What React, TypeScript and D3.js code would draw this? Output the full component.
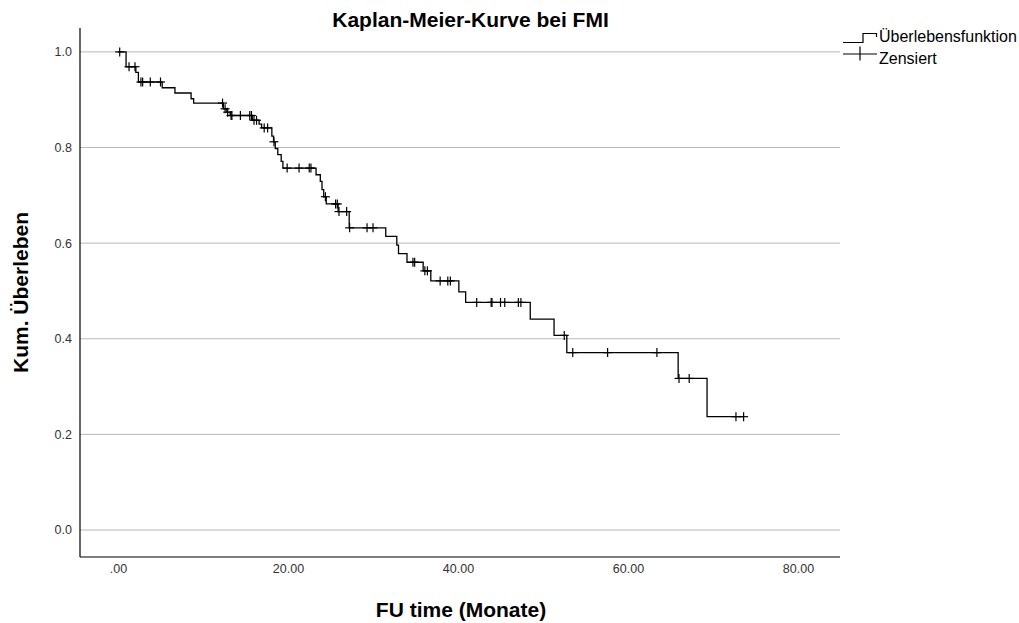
import React, { useEffect, useRef } from 'react';
import * as d3 from 'd3';

// Kaplan-Meier steps: time (months) where the curve drops, and survival after the drop
const stepTimes = [0, 0.95, 2.1, 2.4, 5.2, 6.7, 8.6, 8.9, 12.4, 12.8, 13.2, 15.8, 16.6, 16.9, 18.1, 18.3, 18.5, 18.8, 19.2, 19.4,
    23.3, 23.8, 24.0, 24.2, 24.5, 25.9, 27.2, 31.5, 32.8, 33.0, 34.0, 35.9, 36.8, 40.1, 40.9, 48.5, 51.3, 52.8, 65.9, 69.3];
const stepSurvival = [1.0, 0.969, 0.957, 0.937, 0.925, 0.914, 0.902, 0.893, 0.881, 0.874, 0.867, 0.857, 0.849, 0.841, 0.824, 0.812, 0.798, 0.785, 0.771, 0.757,
    0.743, 0.729, 0.712, 0.697, 0.682, 0.666, 0.632, 0.614, 0.596, 0.578, 0.560, 0.542, 0.521, 0.498, 0.476, 0.441, 0.407, 0.371, 0.317, 0.237];

// censored observations (months)
const censorTimes = [0.2, 1.3, 2.0, 2.7, 2.9, 3.8, 5.0, 12.3, 12.6, 12.9, 13.3, 13.4, 14.4, 15.5, 15.7, 16.0, 16.3, 17.2, 17.6, 18.35,
    19.9, 21.3, 22.5, 22.7, 24.4, 25.6, 25.8, 26.0, 26.9, 27.25, 29.3, 30.0, 34.7, 34.9, 36.1, 36.4, 37.9, 38.8, 39.1,
    42.2, 43.9, 44.0, 45.0, 45.5, 47.1, 47.4, 52.5, 53.5, 57.6, 63.4, 66.0, 67.2, 72.7, 73.6];

const xTicks = [0, 20, 40, 60, 80];
const yTicks = [0, 0.2, 0.4, 0.6, 0.8, 1.0];
const legendLabels = ['Überlebensfunktion', 'Zensiert'];

const FONT = '"Liberation Sans", Arial, sans-serif';

const KaplanMeierChart = () => {
    const svgRef = useRef(null);

    useEffect(() => {
        const width = 1019;
        const height = 623;
        const plot = { left: 80, right: 840, top: 28, bottom: 557 };

        const svg = d3.select(svgRef.current)
            .attr('width', width)
            .attr('height', height);

        svg.selectAll('*').remove();

        const x = d3.scaleLinear().domain([-4.47, 84.94]).range([plot.left, plot.right]);
        const y = d3.scaleLinear().domain([-0.0565, 1.05]).range([plot.bottom, plot.top]);

        const steps = stepTimes.map((t, i) => ({ t, s: stepSurvival[i] }));
        const survAt = (t) => {
            let s = 1;
            steps.forEach(d => { if (d.t <= t) s = d.s; });
            return s;
        };
        const lastTime = d3.max(censorTimes.concat(stepTimes));
        const pathData = steps.concat([{ t: lastTime, s: survAt(lastTime) }]);

        // gridlines
        svg.append('g')
            .selectAll('line')
            .data(yTicks)
            .join('line')
            .attr('x1', plot.left)
            .attr('x2', plot.right)
            .attr('y1', d => y(d))
            .attr('y2', d => y(d))
            .attr('stroke', '#b8b8b8')
            .attr('stroke-width', 1);

        // y tick labels
        const yAxis = svg.append('g')
            .attr('transform', `translate(${plot.left},0)`)
            .call(d3.axisLeft(y).tickValues(yTicks).tickSize(0).tickPadding(8).tickFormat(d3.format('.1f')));
        yAxis.select('.domain').remove();
        yAxis.selectAll('text')
            .attr('font-family', FONT)
            .attr('font-size', 12.5)
            .attr('fill', '#333');

        // x tick labels
        const xAxis = svg.append('g')
            .attr('transform', `translate(0,${plot.bottom})`)
            .call(d3.axisBottom(x).tickValues(xTicks).tickSize(0).tickPadding(7.5)
                .tickFormat(d => d === 0 ? '.00' : d3.format('.2f')(d)));
        xAxis.select('.domain').remove();
        xAxis.selectAll('text')
            .attr('font-family', FONT)
            .attr('font-size', 12.5)
            .attr('fill', '#333');

        // axis lines
        svg.append('line')
            .attr('x1', plot.left).attr('x2', plot.left)
            .attr('y1', plot.top).attr('y2', plot.bottom)
            .attr('stroke', '#000').attr('stroke-width', 1.2);
        svg.append('line')
            .attr('x1', plot.left).attr('x2', plot.right)
            .attr('y1', plot.bottom).attr('y2', plot.bottom)
            .attr('stroke', '#000').attr('stroke-width', 1.2);

        // survival curve
        const line = d3.line()
            .x(d => x(d.t))
            .y(d => y(d.s))
            .curve(d3.curveStepAfter);

        svg.append('path')
            .datum(pathData)
            .attr('fill', 'none')
            .attr('stroke', '#000')
            .attr('stroke-width', 1.3)
            .attr('d', line);

        // censor marks
        const mark = 4.5;
        const marks = svg.append('g')
            .selectAll('g')
            .data(censorTimes)
            .join('g')
            .attr('transform', d => `translate(${x(d)},${y(survAt(d))})`);
        marks.append('line')
            .attr('x1', 0).attr('x2', 0).attr('y1', -mark).attr('y2', mark)
            .attr('stroke', '#000').attr('stroke-width', 1.2);
        marks.append('line')
            .attr('x1', -mark).attr('x2', mark).attr('y1', 0).attr('y2', 0)
            .attr('stroke', '#000').attr('stroke-width', 1.2);

        // titles
        svg.append('text')
            .attr('x', 470.5)
            .attr('y', 26.5)
            .attr('text-anchor', 'middle')
            .attr('font-family', FONT)
            .attr('font-weight', 'bold')
            .attr('font-size', 21)
            .text('Kaplan-Meier-Kurve bei FMI');

        svg.append('text')
            .attr('x', 461)
            .attr('y', 617)
            .attr('text-anchor', 'middle')
            .attr('font-family', FONT)
            .attr('font-weight', 'bold')
            .attr('font-size', 21)
            .text('FU time (Monate)');

        svg.append('text')
            .attr('transform', 'translate(28,292.5) rotate(-90)')
            .attr('text-anchor', 'middle')
            .attr('font-family', FONT)
            .attr('font-weight', 'bold')
            .attr('font-size', 21)
            .text('Kum. Überleben');

        // legend
        const legend = svg.append('g');
        legend.append('path')
            .attr('d', 'M843,42.5 H863 V33.5 H876.5 V37')
            .attr('fill', 'none')
            .attr('stroke', '#000')
            .attr('stroke-width', 1.2);
        legend.append('line')
            .attr('x1', 843).attr('x2', 877).attr('y1', 54).attr('y2', 54)
            .attr('stroke', '#000').attr('stroke-width', 1.2);
        legend.append('line')
            .attr('x1', 860).attr('x2', 860).attr('y1', 46.5).attr('y2', 60.5)
            .attr('stroke', '#000').attr('stroke-width', 1.2);
        legend.selectAll('text')
            .data(legendLabels)
            .join('text')
            .attr('x', 879)
            .attr('y', (d, i) => 42 + i * 21.5)
            .attr('font-family', FONT)
            .attr('font-size', 16)
            .attr('fill', '#000')
            .text(d => d);
    }, []);

    return <svg ref={svgRef} style={{ position: 'absolute', left: 0, top: 0, display: 'block', background: '#fff' }}></svg>;
};

export default function App() {
    return <KaplanMeierChart />;
}
